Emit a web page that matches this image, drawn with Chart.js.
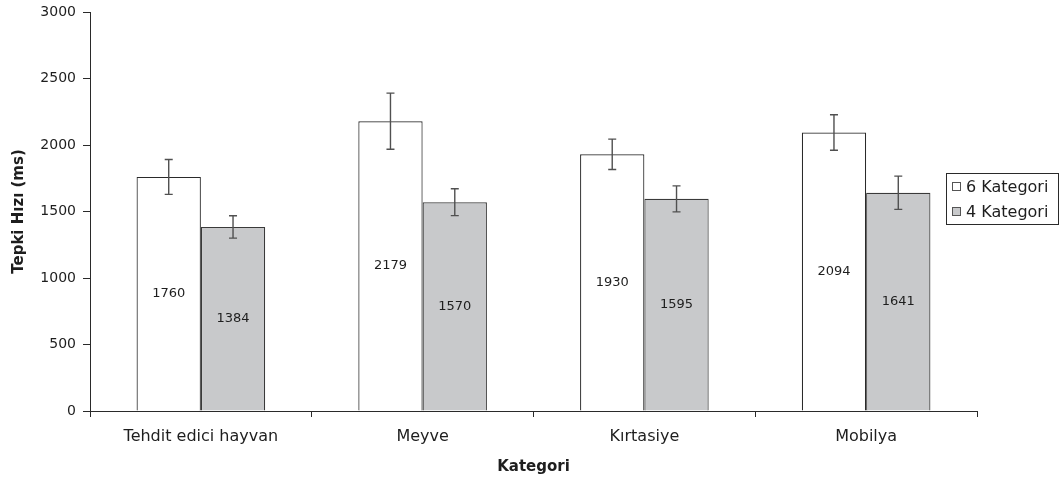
<!DOCTYPE html>
<html lang="tr">
  <head>
    <meta charset="UTF-8" />
    <title>Tepki Hızı</title>
    <style>
      body { margin: 0; background: #fff; }
      #wrap { width: 1064px; height: 482px; }
    </style>
  </head>
  <body>
    <div id="wrap"><canvas id="myChart" width="1064" height="482"></canvas></div>

    <script src="https://cdn.jsdelivr.net/npm/chart.js@4.4.0/dist/chart.umd.min.js"></script>
    <script>
      // data
      const categories = ['Tehdit edici hayvan', 'Meyve', 'Kırtasiye', 'Mobilya']
      const seriesNames = ['6 Kategori', '4 Kategori']
      const six = [1760, 2179, 1930, 2094]
      const four = [1384, 1570, 1595, 1641]
      const sixErr = [131, 211, 114, 133]
      const fourErr = [84, 101, 98, 125]
      const yTicks = [0, 500, 1000, 1500, 2000, 2500, 3000]

      const FONT = 'DejaVu Sans'
      const TXT = '#1e1e1e'
      const LINE = '#2a2a2a'

      // error bars + value labels inside the bars
      const barExtras = {
        id: 'barExtras',
        afterDatasetsDraw(chart) {
          const ctx = chart.ctx
          const y = chart.scales.y
          const errs = [sixErr, fourErr]
          chart.data.datasets.forEach((ds, i) => {
            const meta = chart.getDatasetMeta(i)
            meta.data.forEach((bar, j) => {
              const v = ds.data[j]
              const e = errs[i][j]
              const top = y.getPixelForValue(v + e)
              const bot = y.getPixelForValue(v - e)
              ctx.save()
              ctx.strokeStyle = '#505050'
              ctx.lineWidth = 1.4
              ctx.beginPath()
              ctx.moveTo(bar.x, top)
              ctx.lineTo(bar.x, bot)
              ctx.moveTo(bar.x - 4, top)
              ctx.lineTo(bar.x + 4, top)
              ctx.moveTo(bar.x - 4, bot)
              ctx.lineTo(bar.x + 4, bot)
              ctx.stroke()
              ctx.fillStyle = TXT
              ctx.font = '13px "' + FONT + '"'
              ctx.textAlign = 'center'
              ctx.textBaseline = 'middle'
              ctx.fillText(String(v), bar.x, (bar.y + bar.base) / 2)
              ctx.restore()
            })
          })
        },
        afterDraw(chart) {
          // legend box on the right
          const ctx = chart.ctx
          ctx.save()
          ctx.strokeStyle = LINE
          ctx.lineWidth = 1
          ctx.strokeRect(946.5, 173.5, 112, 51)
          chart.data.datasets.forEach((ds, i) => {
            const cy = 187 + i * 25
            ctx.fillStyle = ds.backgroundColor
            ctx.fillRect(952.5, cy - 4.5, 8, 8)
            ctx.strokeStyle = '#555'
            ctx.strokeRect(952.5, cy - 4.5, 8, 8)
            ctx.fillStyle = TXT
            ctx.font = '16px "' + FONT + '"'
            ctx.textAlign = 'left'
            ctx.textBaseline = 'middle'
            ctx.fillText(ds.label, 966, cy + 1)
          })
          ctx.restore()
        },
      }

      new Chart('myChart', {
        type: 'bar',
        data: {
          labels: categories,
          datasets: [
            {
              label: seriesNames[0],
              data: six,
              backgroundColor: '#ffffff',
              borderColor: LINE,
              borderWidth: 1.2,
            },
            {
              label: seriesNames[1],
              data: four,
              backgroundColor: '#c8c9cb',
              borderColor: '#3a3a3a',
              borderWidth: 1.2,
            },
          ],
        },
        options: {
          responsive: false,
          animation: false,
          layout: { padding: { left: 0, right: 87, top: 12, bottom: 0 } },
          datasets: { bar: { categoryPercentage: 0.58, barPercentage: 1.0 } },
          plugins: { legend: { display: false }, tooltip: { enabled: false } },
          scales: {
            x: {
              grid: { offset: true, drawOnChartArea: false, tickLength: 6, color: LINE },
              border: { color: LINE, width: 1 },
              ticks: { font: { family: FONT, size: 16 }, color: TXT, padding: 10, maxRotation: 0 },
              title: {
                display: true,
                text: 'Kategori',
                font: { family: FONT, size: 15, weight: 'bold' },
                color: TXT,
                padding: { top: 0, bottom: 6 },
              },
              afterFit(s) { s.height = 71 },
            },
            y: {
              min: 0,
              max: 3000,
              afterBuildTicks(s) { s.ticks = yTicks.map((v) => ({ value: v })) },
              grid: { drawOnChartArea: false, tickLength: 7, color: LINE },
              border: { color: LINE, width: 1 },
              ticks: {
                font: { family: FONT, size: 14, lineHeight: 1 },
                color: TXT,
                padding: 7,
                callback: (v) => String(v),
              },
              title: {
                display: true,
                text: 'Tepki Hızı (ms)',
                font: { family: FONT, size: 15, weight: 'bold' },
                color: TXT,
                padding: { top: 10, bottom: 0 },
              },
              afterFit(s) {
                s.width = 90
                s.paddingTop = 0
              },
            },
          },
        },
        plugins: [barExtras],
      })
    </script>
  </body>
</html>
